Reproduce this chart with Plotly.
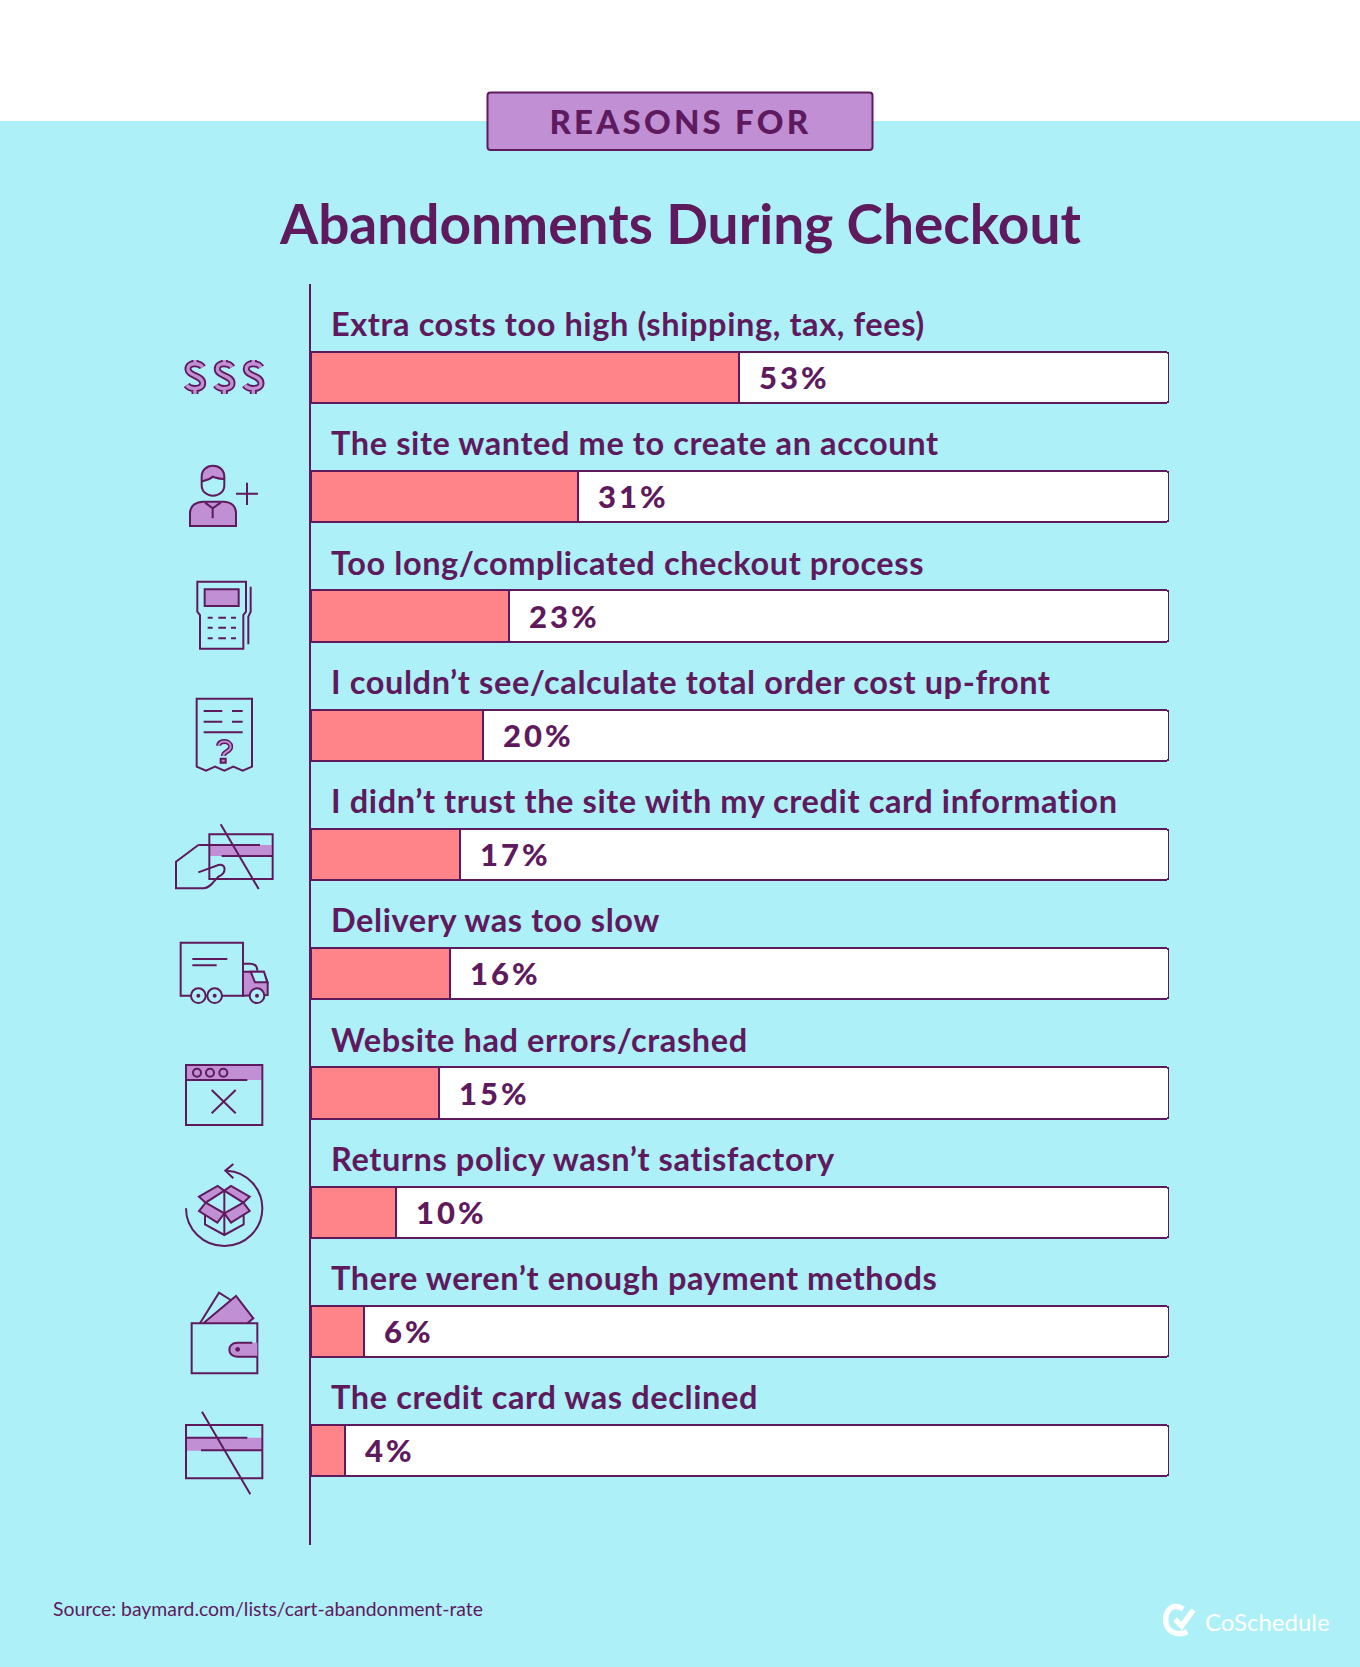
import re
import plotly.graph_objects as go

# Reason labels, printed percentages and drawn bar lengths.
# The reference's 53% bar is drawn shorter than its label, at about 50 on the
# scale that the other bars follow, so the drawn length is kept apart from the label.
categories = [
    "Extra costs too high (shipping, tax, fees)",
    "The site wanted me to create an account",
    "Too long/complicated checkout process",
    "I couldn’t see/calculate total order cost up-front",
    "I didn’t trust the site with my credit card information",
    "Delivery was too slow",
    "Website had errors/crashed",
    "Returns policy wasn’t satisfactory",
    "There weren’t enough payment methods",
    "The credit card was declined",
]
labels = [53, 31, 23, 20, 17, 16, 15, 10, 6, 4]
drawn = [49.9, 31.1, 23.1, 20, 17.4, 16.2, 14.9, 9.9, 6.2, 4]

DARK = "#5f1a5e"
CYAN = "#adf0f7"
PINK = "#ff8489"
LILAC = "#c08fd4"
W, H = 1360, 1667
FONT = "Lato"
HEAVY = "Lato Black, Lato"

fig = go.Figure()
fig.add_bar(y=categories, x=drawn, orientation="h", width=0.43,
            marker=dict(color=PINK, line=dict(color=DARK, width=2)),
            hoverinfo="skip", showlegend=False)
fig.add_bar(y=categories, x=[100 - v for v in drawn], orientation="h", width=0.43,
            marker=dict(color="white", line=dict(color=DARK, width=2)),
            hoverinfo="skip", showlegend=False)
# Hidden page-sized axes carry the decoration
fig.add_scatter(x=[0, W], y=[0, H], xaxis="x2", yaxis="y2", mode="markers",
                marker=dict(opacity=0), hoverinfo="skip", showlegend=False)

shapes = []
def add(path, stroke=DARK, fill=None, width=2.0, layer="above"):
    shapes.append(dict(type="path", path=path, xref="x2", yref="y2", layer=layer,
                       line=dict(color=stroke, width=width) if stroke else dict(width=0),
                       fillcolor=fill if fill else "rgba(0,0,0,0)"))

def tf(path, x0, y0):
    """Turn a path noted in 3x zoom units into page pixels."""
    i = [0]
    def rep(m):
        v = float(m.group(0)) / 3
        r = v + (x0 if i[0] % 2 == 0 else y0)
        i[0] += 1
        return f"{r:.2f}"
    return re.sub(r"-?\d+(\.\d+)?", rep, path)

def circ(cx, cy, r):
    k = 0.5523 * r
    return (f"M{cx-r} {cy} C{cx-r} {cy-k} {cx-k} {cy-r} {cx} {cy-r} "
            f"C{cx+k} {cy-r} {cx+r} {cy-k} {cx+r} {cy} "
            f"C{cx+r} {cy+k} {cx+k} {cy+r} {cx} {cy+r} "
            f"C{cx-k} {cy+r} {cx-r} {cy+k} {cx-r} {cy} Z")

def rect(a, b, c, d):
    return f"M{a} {b} L{c} {b} L{c} {d} L{a} {d} Z"

# Page background (paper reference keeps it under every subplot)
shapes.append(dict(type="rect", xref="paper", yref="paper", x0=0, x1=1, y0=0, y1=1 - 121 / H,
                   fillcolor=CYAN, line=dict(width=0), layer="below"))
# Title pill
shapes.append(dict(type="path", xref="x2", yref="y2", layer="above",
                   path="M490.5 92.5 L869.5 92.5 Q872.5 92.5 872.5 95.5 L872.5 147 Q872.5 150 869.5 150 "
                        "L490.5 150 Q487.5 150 487.5 147 L487.5 95.5 Q487.5 92.5 490.5 92.5 Z",
                   fillcolor=LILAC, line=dict(color=DARK, width=2)))

# --- Dollars
x0, y0 = 160, 280
for dx in (0, 88, 175):
    s = (f"M{128+dx} 262 C{120+dx} 248 {82+dx} 245 {84+dx} 268 C{86+dx} 290 {128+dx} 285 {128+dx} 310 "
         f"C{128+dx} 330 {90+dx} 330 {80+dx} 315 M{105+dx} 240 L{105+dx} 250 M{105+dx} 330 L{105+dx} 342")
    add(tf(s, x0, y0), width=7)
    add(tf(s, x0, y0), stroke=LILAC, width=3.4)
# --- Person
add(tf("M90 738 L90 700 C90 675 110 665 130 665 L190 665 C215 665 228 680 228 700 L228 738 Z", x0, y0), fill=LILAC)
add(tf("M135 668 L158 685 L182 668 M158 685 L158 715", x0, y0))
add(tf("M125 590 C125 570 140 557 159 557 C178 557 193 570 193 590 L193 597 C175 597 165 592 158 590 C150 600 135 600 125 605 Z", x0, y0), stroke=None, fill=LILAC)
add(tf("M125 590 C125 570 140 557 159 557 C178 557 193 570 193 590 L193 615 C193 635 178 647 159 647 C140 647 125 635 125 615 Z", x0, y0))
add(tf("M125 605 C135 600 150 600 158 590 C165 592 175 597 193 597", x0, y0))
add(tf("M228 641 L294 641 M261 608 L261 675", x0, y0))

# --- Card reader
x0, y0 = 160, 560
add(tf("M112 65 L258 65 L258 155 L250 165 L250 266 L120 266 L120 165 L112 155 Z", x0, y0))
add(tf(rect(134, 88, 236, 138), x0, y0), fill=LILAC)
for yy in (173, 203, 235):
    add(tf(f"M143 {yy} L158 {yy} M175 {yy} L198 {yy} M213 {yy} L228 {yy}", x0, y0))
add(tf("M272 80 L272 155 L265 170 L265 253", x0, y0))
# --- Receipt
add(tf("M110 416 L276 416 L276 620 L248 632 L220 620 L193 632 L165 620 L138 632 L110 620 Z", x0, y0))
add(tf("M131 453 L187 453 M216 453 L248 453 M131 485 L187 485 M216 485 L248 485 M131 517 L248 517", x0, y0))
q = "M176 557 C176 540 212 540 212 560 C212 575 190 575 190 588"
add(tf(q, x0, y0), width=5)
add(tf(q, x0, y0), stroke=LILAC, width=2)
add(tf(rect(182, 596, 197, 608), x0, y0), fill=LILAC)
# --- Hand and card
add(tf(rect(150, 855, 335, 888), x0, y0), stroke=None, fill=LILAC)
add(tf(rect(148, 823, 338, 957), x0, y0))
add(tf("M115 855 L300 855 M185 888 L338 888", x0, y0))
add(tf("M115 855 L48 905 L48 985 L130 985 C150 985 160 965 175 950 C200 940 200 910 175 915 L115 937", x0, y0))
add(tf("M182 793 L296 987", x0, y0))

# --- Truck
x0, y0 = 160, 920
add(tf("M249 155 L310 155 L323 187 L323 225 L249 227 Z", x0, y0), fill=LILAC)
add(tf("M272 155 L312 155 L322 187 L285 187 Z", x0, y0), fill=CYAN)
add(tf("M62 227 L62 68 L249 68 L249 227 Z", x0, y0))
add(tf("M97 117 L202 117 M97 136 L170 136", x0, y0))
add(tf("M249 131 L270 131 C285 131 292 140 292 152", x0, y0))
for cx in (115, 164, 291):
    add(tf(circ(cx, 227, 22), x0, y0), fill=CYAN)
    add(tf(circ(cx, 227, 3), x0, y0), fill=DARK)
# --- Browser
add(tf(rect(80, 437, 305, 480), x0, y0), stroke=None, fill=LILAC)
add(tf(rect(78, 435, 307, 615), x0, y0))
add(tf("M78 480 L262 480 M155 510 L227 580 M227 510 L155 580", x0, y0))
for cx in (111, 150, 190):
    add(tf(circ(cx, 458, 12), x0, y0))
# --- Returns box
add(tf("M200 752 C265 755 307 810 307 865 C307 928 256 978 193 978 C130 978 78 928 78 865", x0, y0))
add(tf("M220 732 L196 752 L220 775", x0, y0))
add(tf("M135 880 L135 913 L193 945 L251 913 L251 880 M193 810 L193 945", x0, y0))
add(tf("M117 830 L173 798 L193 812 L137 848 Z", x0, y0), fill=LILAC)
add(tf("M193 812 L213 798 L269 830 L250 848 Z", x0, y0), fill=LILAC)
add(tf("M137 848 L193 880 L172 908 L117 873 Z", x0, y0), fill=LILAC)
add(tf("M250 848 L193 880 L213 908 L269 873 Z", x0, y0), fill=LILAC)

# --- Wallet
x0, y0 = 160, 1270
add(tf("M120 160 L177 68 L212 90", x0, y0))
add(tf("M130 160 L228 78 L280 145 L262 160", x0, y0), fill=LILAC)
add(tf(rect(95, 160, 292, 310), x0, y0))
add(tf("M292 218 L232 218 C200 218 200 260 232 260 L292 260 Z", x0, y0), stroke=None, fill=LILAC)
add(tf("M277 218 L232 218 C200 218 200 260 232 260 L292 260", x0, y0))
add(tf(circ(233, 238, 7), x0, y0), stroke=None, fill=DARK)
# --- Declined card
add(tf(rect(80, 503, 305, 542), x0, y0), stroke=None, fill=LILAC)
add(tf(rect(78, 465, 307, 625), x0, y0))
add(tf("M78 503 L262 503 M123 541 L307 541 M126 425 L271 673", x0, y0))

# --- Logo mark
x0, y0 = 1100, 1580
add(tf("M250 87 C215 65 197 95 197 120 C197 150 225 172 262 155", x0, y0), stroke="white", width=5.5)
add(tf("M225 118 L245 138 L280 90", x0, y0), stroke="white", width=5.5)

ann = []
def text(t, x, y, size, color=DARK, anchor="left", weight=400, font=FONT):
    ann.append(dict(text=t, x=x, y=y, xref="x2", yref="y2", showarrow=False, xanchor=anchor,
                    yanchor="middle", font=dict(family=font, size=size, color=color, weight=weight)))

text("REASONS FOR", 680, 120.5, 33, anchor="center", weight=900, font=HEAVY)
text("Abandonments During Checkout", 679.5, 223, 55, anchor="center", weight=700)
text("Source: baymard.com/lists/cart-abandonment-rate", 51, 1608, 19.4)
text("CoSchedule", 1203, 1621, 24, color="white")

for c, v, lab in zip(categories, drawn, labels):
    ann.append(dict(text=c, x=0, y=c, xref="x", yref="y", showarrow=False, xanchor="left",
                    yanchor="middle", xshift=18, yshift=54,
                    font=dict(family=FONT, size=32.5, color=DARK, weight=700)))
    ann.append(dict(text=f"{lab}%", x=v, y=c, xref="x", yref="y", showarrow=False, xanchor="left",
                    yanchor="middle", xshift=18, yshift=0.5,
                    font=dict(family=HEAVY, size=31, color=DARK, weight=900)))

fig.update_layout(
    width=W, height=H, margin=dict(l=0, r=0, t=0, b=0), autosize=False,
    paper_bgcolor="white", plot_bgcolor="rgba(0,0,0,0)",
    barmode="stack", barcornerradius=4, bargap=0,
    shapes=shapes, annotations=ann,
    xaxis=dict(domain=[311 / W, 1169 / W], range=[0, 100], visible=False, fixedrange=True),
    yaxis=dict(domain=[1 - 1545 / H, 1 - 284 / H], type="category", categoryorder="array",
               categoryarray=categories, range=[9.79, -0.784], showline=True, linecolor=DARK,
               linewidth=2, showticklabels=False, ticks="", showgrid=False, zeroline=False,
               anchor="x", fixedrange=True),
    xaxis2=dict(domain=[0, 1], range=[0, W], visible=False, anchor="y2", fixedrange=True),
    yaxis2=dict(domain=[0, 1], range=[H, 0], visible=False, anchor="x2", fixedrange=True),
)

# Page margin off; letter spacing on, keeping left-aligned texts on their start position
spacing = """
document.body.style.margin='0';
document.documentElement.style.overflow='hidden';
var s=function(){document.querySelectorAll('.annotation-text').forEach(function(t){
 if(t.dataset.sp){return;}
 t.dataset.sp='1';
 var c=t.textContent, sp=null;
 if(c==='REASONS FOR'){t.style.letterSpacing='3.2px';return;}
 if(/^[0-9]+%$/.test(c)){sp='3px';}
 else if(c.indexOf('Source')!==0 && c!=='CoSchedule' && c.indexOf('Abandon')!==0){sp='0.6px';}
 if(sp){var b=t.getBBox();t.setAttribute('text-anchor','start');t.setAttribute('x',b.x);t.style.letterSpacing=sp;}
});};s();
"""
fig.write_html("out.html", post_script=spacing, config=dict(displayModeBar=False))
